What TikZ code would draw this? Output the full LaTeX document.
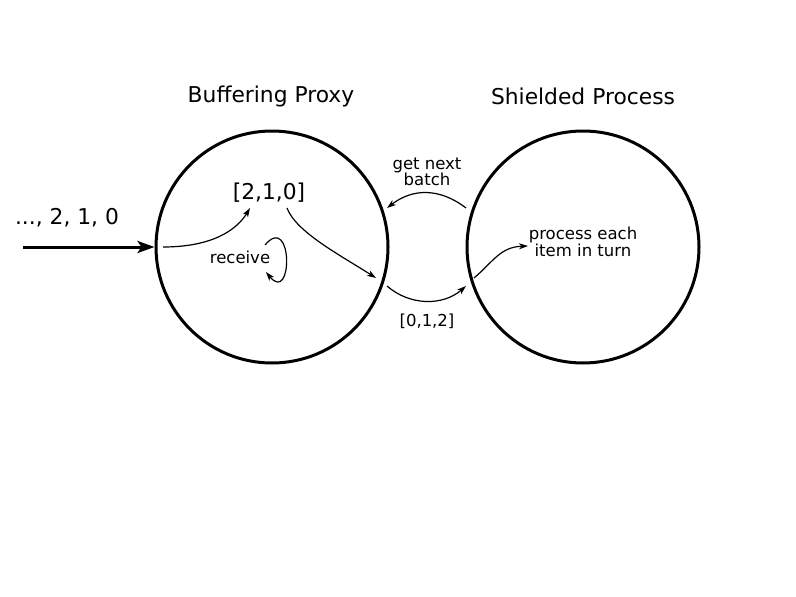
\documentclass[tikz,border=0pt]{standalone}
\usepackage{fontspec}
\setmainfont{DejaVu Sans}
\usetikzlibrary{arrows.meta}
\begin{document}
\begin{tikzpicture}[x=1pt,y=-1pt,
  proc/.style={circle,draw,line width=3pt,minimum size=232pt,inner sep=0pt},
  big/.style={font=\fontsize{21.8}{24}\selectfont,inner sep=0pt},
  small/.style={font=\fontsize{16.5}{16.5}\selectfont,inner sep=0pt,align=center},
  conn/.style={line width=1.2pt,-{Stealth[length=9pt,width=6pt,inset=2.5pt]}},
  feed/.style={line width=3pt,-{Stealth[length=17pt,width=12pt,inset=4pt]}}]
\useasboundingbox (0,0) rectangle (796,597);
\node[proc] (bp) at (272,247) {};
\node[proc] (sp) at (583,247) {};
\node[big] (bpl) at (271,96) {Buffering Proxy};
\node[big] (spl) at (583,96) {Shielded Process};
\node[big] (seq) at (67,218) {..., 2, 1, 0};
\node[big] (buf) at (269,193) {[2,1,0]};
\node[small] (rcv) at (240,257) {receive};
\node[small] (gnb) at (427,172) {get next\\batch};
\node[small] (out) at (427,321) {[0,1,2]};
\node[small] (pe) at (583,242) {process each\\item in turn};
\coordinate (in) at (23,247);
\draw[feed] (in) -- (bp.west);
\coordinate (a1s) at (163,247);
\coordinate (a1e) at (250,208);
\draw[conn] (a1s) .. controls (215,247) and (238,228) .. (a1e);
\coordinate (a2s) at (287,208);
\coordinate (a2e) at (376,278);
\draw[conn] (a2s) .. controls (296,232) and (340,255) .. (a2e);
\coordinate (ls) at (265,245);
\coordinate (le) at (266,272);
\draw[conn] (ls) .. controls (293,212) and (293,305) .. (le);
\coordinate (gs) at (466,208);
\coordinate (ge) at (387,208);
\draw[conn] (gs) .. controls (440,188) and (413,188) .. (ge);
\coordinate (os) at (387,286);
\coordinate (oe) at (466,286);
\draw[conn] (os) .. controls (410,306) and (443,306) .. (oe);
\coordinate (ps) at (474,278);
\coordinate (pe2) at (528,246);
\draw[conn] (ps) .. controls (493,262) and (500,247) .. (pe2);
\end{tikzpicture}
\end{document}
